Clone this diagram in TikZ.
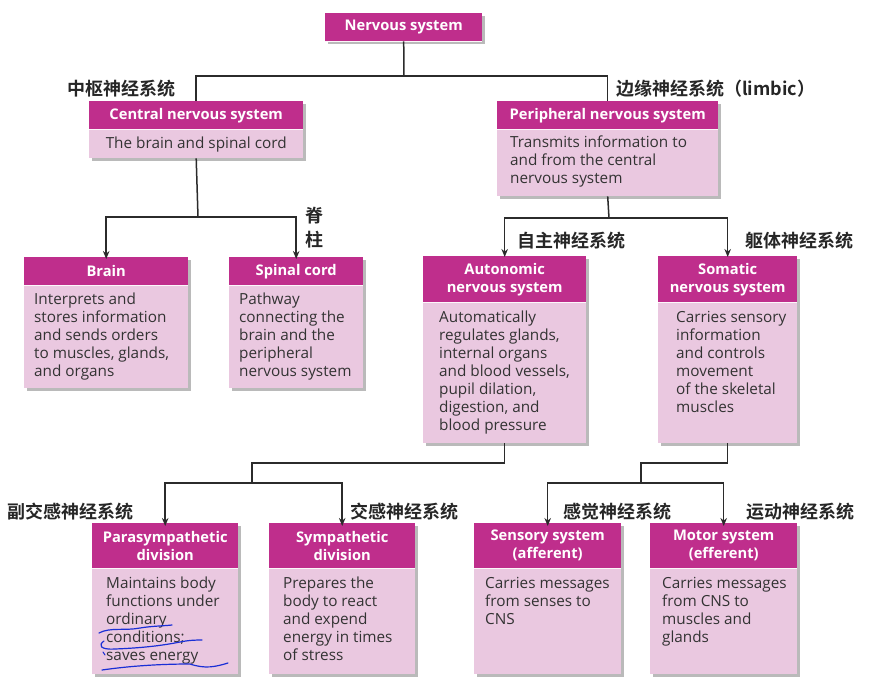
\documentclass[tikz,border=0pt]{standalone}
\usepackage{fontspec}
\setmainfont{Open Sans}
\newfontfamily\cjk{Noto Sans CJK SC}[BoldFont={* Bold}]
\usetikzlibrary{shadows,arrows.meta}
\definecolor{mag}{HTML}{BF2E8C}
\definecolor{pinkb}{HTML}{EAC8E0}
\definecolor{txt}{HTML}{333333}
\definecolor{ln}{HTML}{2B2B2B}
\definecolor{pen}{HTML}{1A2FD6}
\tikzset{
  bodybox/.style={fill=pinkb, draw=none, anchor=north west, inner sep=0pt,
    drop shadow={shadow xshift=3pt, shadow yshift=-3pt, opacity=0.45, fill=black!60}},
  hdrbox/.style={fill=mag, draw=none, anchor=north west, inner sep=0pt, text=white,
    font=\fontsize{14.7}{18}\selectfont\bfseries, align=center},
  btxt/.style={anchor=north west, inner sep=0pt, text=txt, align=left,
    font=\fontsize{15.3}{18}\selectfont},
  cjklab/.style={inner sep=0pt, text=black!85, font=\cjk\bfseries\fontsize{18}{20}\selectfont},
  conn/.style={draw=ln, line width=1.5pt},
  arr/.style={conn, -{Stealth[length=8pt,width=6.5pt]}},
  sep/.style={draw=white!85!pinkb, line width=1pt}
}
% \bx{name}{left}{top}{width}{header height}{total height}{title}
\newcommand{\bx}[7]{%
  \node[bodybox, minimum width=#4pt, minimum height=#6pt] (#1) at (#2,#3) {};
  \node[hdrbox, minimum width=#4pt, minimum height=#5pt] (#1H) at (#2,#3) {#7};
  \draw[sep] (#1H.south west) -- (#1H.south east);
}
\begin{document}
\begin{tikzpicture}[x=1pt,y=-1pt]
\useasboundingbox (0,0) rectangle (889,685);
% boxes
\bx{ns}{325}{13}{157}{28}{28}{Nervous system}
\bx{cns}{89}{101}{214}{28}{57}{Central nervous system}
\bx{pns}{497}{101}{221}{28}{95}{Peripheral nervous system}
\bx{brain}{24}{257}{164}{28}{131}{Brain}
\bx{spinal}{229}{257}{134}{28}{131}{Spinal cord}
\bx{auto}{423}{256}{163}{46}{187}{Autonomic\\nervous system}
\bx{soma}{658}{256}{139}{46}{187}{Somatic\\nervous system}
\bx{para}{92}{523}{146}{45}{151}{Parasympathetic\\division}
\bx{symp}{269}{523}{146}{45}{151}{Sympathetic\\division}
\bx{sens}{474}{523}{147}{45}{151}{Sensory system\\(afferent)}
\bx{motor}{650}{523}{147}{45}{151}{Motor system\\(efferent)}
% body texts
\node[btxt, anchor=north, align=center] (cnsT) at ([yshift=-7pt]cnsH.south) {The brain and spinal cord};
\node[btxt] (pnsT) at (510,136) {Transmits information to\\and from the central\\nervous system};
\node[btxt] (brainT) at (34,293) {Interprets and\\stores information\\and sends orders\\to muscles, glands,\\and organs};
\node[btxt] (spinalT) at (239,293) {Pathway\\connecting the\\brain and the\\peripheral\\nervous system};
\node[btxt] (autoT) at (439,311) {Automatically\\regulates glands,\\internal organs\\and blood vessels,\\pupil dilation,\\digestion, and\\blood pressure};
\node[btxt] (somaT) at (676,311) {Carries sensory\\information\\and controls\\movement\\of the skeletal\\muscles};
\node[btxt] (paraT) at (106,577) {Maintains body\\functions under\\ordinary\\conditions;\\saves energy};
\node[btxt] (sympT) at (283,577) {Prepares the\\body to react\\and expend\\energy in times\\of stress};
\node[btxt] (sensT) at (485,577) {Carries messages\\from senses to\\CNS};
\node[btxt] (motorT) at (662,577) {Carries messages\\from CNS to\\muscles and\\glands};
% junction coordinates
\coordinate (j1) at (404,76);
\coordinate (j2) at (198,217);
\coordinate (j3) at (609,218);
\coordinate (j4) at (252,463);
\coordinate (j5) at (252,483);
\coordinate (j6) at (641,463);
\coordinate (j7) at (641,483);
% connectors
\draw[conn] (ns.south) -- (j1);
\draw[conn] (j1) -| (cnsH.north);
\draw[conn] (j1) -| (pnsH.north);
\draw[conn] (cns.south) -- (j2);
\draw[arr] (j2) -| ([yshift=-2pt]brainH.north);
\draw[arr] (j2) -| ([yshift=-2pt]spinalH.north);
\draw[conn] (pns.south) -- (j3);
\draw[arr] (j3) -| ([yshift=-1pt]autoH.north);
\draw[arr] (j3) -| ([yshift=-1pt]somaH.north);
\draw[conn] (auto.south) |- (j4) -- (j5);
\draw[arr] (j5) -| ([yshift=-3pt]paraH.north);
\draw[arr] (j5) -| ([yshift=-3pt]sympH.north);
\draw[conn] (soma.south) |- (j6) -- (j7);
\draw[arr] (j7) -| ([yshift=-3pt]sensH.north);
\draw[arr] (j7) -| ([yshift=-3pt]motorH.north);
% chinese labels
\node[cjklab, anchor=west] (l1) at (67,89) {中枢神经系统};
\node[cjklab, anchor=west] (l2) at (616,89) {边缘神经系统（limbic）};
\node[cjklab, anchor=center, align=center, font=\cjk\bfseries\fontsize{18}{24}\selectfont] (l3) at (314,228) {脊\\柱};
\node[cjklab, anchor=west] (l4) at (517,241) {自主神经系统};
\node[cjklab, anchor=west] (l5) at (745,241) {躯体神经系统};
\node[cjklab, anchor=west] (l6) at (7,512) {副交感神经系统};
\node[cjklab, anchor=west] (l7) at (350,512) {交感神经系统};
\node[cjklab, anchor=west] (l8) at (563,512) {感觉神经系统};
\node[cjklab, anchor=west] (l9) at (746,512) {运动神经系统};
% handwritten underlines
\draw[pen, line width=1.2pt, line cap=round] (99,633) .. controls (110,627) and (125,631) .. (140,628) .. controls (152,626) and (163,626) .. (172,625);
\draw[pen, line width=1.2pt, line cap=round] (104,641) .. controls (98,645) and (100,650) .. (115,649) .. controls (140,648) and (160,646) .. (180,642) .. controls (190,640) and (197,640) .. (202,640);
\draw[pen, line width=1.2pt, line cap=round] (102,670) .. controls (130,666) and (160,664) .. (190,664) .. controls (205,669) and (215,667) .. (228,663);
\draw[pen, line width=1pt, line cap=round] (103,652) -- (105,655);
\end{tikzpicture}
\end{document}
